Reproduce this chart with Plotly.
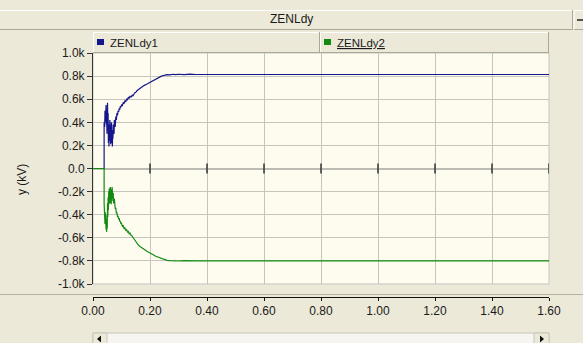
import plotly.graph_objects as go

# ---------------- data ----------------
t1 = [0, 0.039, 0.039, 0.040, 0.041, 0.042, 0.043, 0.044, 0.045, 0.046, 0.047, 0.048, 0.049,
      0.050, 0.051, 0.052, 0.053, 0.054, 0.055, 0.056, 0.057, 0.058, 0.059, 0.060, 0.061,
      0.062, 0.063, 0.064, 0.065, 0.066, 0.067, 0.068, 0.069, 0.070, 0.071, 0.072, 0.073,
      0.074, 0.075, 0.076, 0.077, 0.078, 0.080, 0.082, 0.084, 0.086, 0.088, 0.090, 0.092,
      0.094, 0.096, 0.098, 0.100, 0.103, 0.106, 0.109, 0.112, 0.115, 0.118, 0.121, 0.124,
      0.127, 0.130, 0.134, 0.138, 0.141, 0.146, 0.150, 0.155, 0.160, 0.165, 0.170, 0.175,
      0.180, 0.188, 0.195, 0.200, 0.210, 0.220, 0.230, 0.240, 0.250, 0.260, 0.270, 0.280,
      0.290, 0.300, 0.320, 0.340, 0.360, 1.600]
v1 = [0, 0, 0.40, 0.47, 0.36, 0.50, 0.40, 0.52, 0.44, 0.55, 0.38, 0.50, 0.30,
      0.53, 0.57, 0.35, 0.48, 0.22, 0.38, 0.19, 0.33, 0.24, 0.42, 0.26, 0.36,
      0.21, 0.34, 0.25, 0.40, 0.22, 0.33, 0.19, 0.30, 0.26, 0.38, 0.28, 0.35,
      0.30, 0.42, 0.34, 0.40, 0.36, 0.45, 0.42, 0.48, 0.46, 0.50, 0.49, 0.52,
      0.51, 0.54, 0.53, 0.55, 0.545, 0.57, 0.565, 0.585, 0.58, 0.60, 0.595, 0.615,
      0.61, 0.625, 0.62, 0.635, 0.63, 0.655, 0.66, 0.675, 0.685, 0.695, 0.705, 0.715,
      0.72, 0.73, 0.74, 0.745, 0.76, 0.775, 0.79, 0.80, 0.807, 0.812, 0.810, 0.816,
      0.812, 0.816, 0.812, 0.817, 0.814, 0.814]

t2 = [0, 0.039, 0.039, 0.040, 0.041, 0.042, 0.043, 0.044, 0.045, 0.046, 0.047, 0.048, 0.049,
      0.050, 0.051, 0.052, 0.053, 0.054, 0.055, 0.056, 0.057, 0.058, 0.059, 0.060, 0.061,
      0.062, 0.063, 0.064, 0.065, 0.066, 0.067, 0.068, 0.069, 0.070, 0.071, 0.072, 0.073,
      0.074, 0.075, 0.076, 0.077, 0.078, 0.080, 0.082, 0.084, 0.086, 0.088, 0.090, 0.092,
      0.094, 0.096, 0.098, 0.100, 0.103, 0.106, 0.109, 0.112, 0.115, 0.118, 0.121, 0.124,
      0.127, 0.130, 0.134, 0.138, 0.141, 0.146, 0.150, 0.155, 0.160, 0.165, 0.170, 0.175,
      0.180, 0.188, 0.195, 0.200, 0.210, 0.220, 0.230, 0.240, 0.250, 0.260, 0.270, 0.280,
      0.290, 0.300, 0.320, 0.340, 0.360, 1.600]
v2 = [0, 0, -0.30, -0.42, -0.35, -0.48, -0.38, -0.50, -0.43, -0.53, -0.45, -0.55, -0.40,
      -0.52, -0.30, -0.42, -0.25, -0.36, -0.20, -0.31, -0.17, -0.28, -0.19, -0.30, -0.16,
      -0.27, -0.20, -0.31, -0.18, -0.26, -0.16, -0.25, -0.19, -0.28, -0.21, -0.30, -0.24,
      -0.29, -0.26, -0.33, -0.30, -0.35, -0.34, -0.39, -0.38, -0.42, -0.41, -0.44, -0.43,
      -0.46, -0.455, -0.48, -0.475, -0.50, -0.495, -0.52, -0.515, -0.535, -0.53, -0.55, -0.545,
      -0.565, -0.56, -0.58, -0.585, -0.60, -0.62, -0.635, -0.65, -0.665, -0.675, -0.685, -0.695,
      -0.70, -0.715, -0.725, -0.73, -0.745, -0.76, -0.77, -0.78, -0.79, -0.795, -0.797, -0.800,
      -0.797, -0.801, -0.798, -0.800, -0.799, -0.799]

series_names = ["ZENLdy1", "ZENLdy2"]
series_colors = ["#16168C", "#138A13"]

x_ticks = [0.0, 0.2, 0.4, 0.6, 0.8, 1.0, 1.2, 1.4, 1.6]
x_ticktext = ["0.00", "0.20", "0.40", "0.60", "0.80", "1.00", "1.20", "1.40", "1.60"]
y_ticks = [1.0, 0.8, 0.6, 0.4, 0.2, 0.0, -0.2, -0.4, -0.6, -0.8, -1.0]
y_ticktext = ["1.0k", "0.8k", "0.6k", "0.4k", "0.2k", "0.0", "-0.2k", "-0.4k", "-0.6k", "-0.8k", "-1.0k"]

title_text = "ZENLdy"
y_title = "y (kV)"

# ---------------- layout helpers ----------------
W, H = 583, 343
L, R, T, B = 93, 549, 53, 297
PLOT_BOTTOM = 284


def X(px):
    return (px - L) / (R - L)


def Y(py):
    return (B - py) / (B - T)


BEIGE = "#ECE9D8"
DARKEDGE = "#ACA899"
GRID = "#C6C5BD"
FONT = "Liberation Sans, Arial, sans-serif"

fig = go.Figure()
fig.add_trace(go.Scatter(x=t1, y=v1, mode="lines", name=series_names[0],
                         line=dict(color=series_colors[0], width=1.2), showlegend=False))
fig.add_trace(go.Scatter(x=t2, y=v2, mode="lines", name=series_names[1],
                         line=dict(color=series_colors[1], width=1.2), showlegend=False))
# small tick marks on the zero line
fig.add_trace(go.Scatter(x=x_ticks[1:], y=[0] * (len(x_ticks) - 1), mode="markers",
                         marker=dict(symbol="line-ns", size=7,
                                     line=dict(color="#333333", width=1.5)),
                         showlegend=False, hoverinfo="skip"))

shapes = []
annotations = []


def rect(x0, y0, x1, y1, fill, line_color=None, lw=1, layer="above"):
    shapes.append(dict(type="rect", xref="paper", yref="paper",
                       x0=X(x0), x1=X(x1), y0=Y(y1), y1=Y(y0),
                       fillcolor=fill, layer=layer,
                       line=dict(color=line_color or fill, width=lw if line_color else 0)))


def hline(x0, x1, y, color, lw=1):
    shapes.append(dict(type="line", xref="paper", yref="paper",
                       x0=X(x0), x1=X(x1), y0=Y(y), y1=Y(y),
                       line=dict(color=color, width=lw)))


def vline(x, y0, y1, color, lw=1):
    shapes.append(dict(type="line", xref="paper", yref="paper",
                       x0=X(x), x1=X(x), y0=Y(y0), y1=Y(y1),
                       line=dict(color=color, width=lw)))


def text(x, y, s, size=12, xanchor="center", angle=0, color="#1A1A1A"):
    annotations.append(dict(xref="paper", yref="paper", x=X(x), y=Y(y), text=s,
                            showarrow=False, xanchor=xanchor, yanchor="middle",
                            textangle=angle, font=dict(family=FONT, size=size, color=color)))


# title bar
hline(0, 572, 10.5, "#FFFFFF")
hline(0, 572, 29.5, DARKEDGE)
vline(572.5, 10, 30, DARKEDGE)
text(291, 19.5, title_text, size=12)
# minus button
hline(574, 583, 10.5, "#FFFFFF")
vline(574, 10, 30, "#FFFFFF")
hline(574, 583, 29.5, DARKEDGE)
hline(577, 583, 20, "#222222", lw=1.5)

# legend bar
for i, (x0, x1) in enumerate([(93, 320), (320, 549)]):
    rect(x0, 32, x1, 53, BEIGE)
    hline(x0, x1, 32.5, "#FFFFFF")
    vline(x0 + 0.5, 32, 53, "#FFFFFF")
    vline(x1 - 0.5, 32, 53, DARKEDGE)
    hline(x0, x1, 52.5, DARKEDGE)
    sx = x0 + 4
    rect(sx, 39, sx + 7, 45, series_colors[i])
    label = series_names[i] if i == 0 else "<u>" + series_names[i] + "</u>"
    text(sx + 11, 42.5, label, size=11.5, xanchor="left")

# plot frame
shapes.append(dict(type="rect", xref="paper", yref="paper", x0=0, x1=1,
                   y0=Y(PLOT_BOTTOM), y1=1, line=dict(color=GRID, width=1),
                   fillcolor="rgba(0,0,0,0)", layer="below"))
# divider line above x axis
hline(0, 583, 294.5, "#B5B2A4")

# scroll bar
rect(93, 333, 549, 345, "#F6F5F0", "#C9C6B8")
rect(93, 333, 107, 345, BEIGE, "#C9C6B8")
rect(534, 333, 549, 345, BEIGE, "#C9C6B8")
shapes.append(dict(type="path", xref="paper", yref="paper",
                   path=f"M {X(97)},{Y(339)} L {X(101)},{Y(335.5)} L {X(101)},{Y(342.5)} Z",
                   fillcolor="#111111", line=dict(width=0)))
shapes.append(dict(type="path", xref="paper", yref="paper",
                   path=f"M {X(544)},{Y(339)} L {X(540)},{Y(335.5)} L {X(540)},{Y(342.5)} Z",
                   fillcolor="#111111", line=dict(width=0)))

# y title
text(22, 180, y_title, size=12, angle=-90)

fig.update_layout(
    width=W, height=H,
    margin=dict(l=L, r=W - R, t=T, b=H - B, pad=0),
    paper_bgcolor=BEIGE,
    plot_bgcolor="#FEFCEF",
    font=dict(family=FONT, size=12, color="#1A1A1A"),
    showlegend=False,
    hovermode=False,
    shapes=shapes,
    annotations=annotations,
    xaxis=dict(range=[0, 1.6], tickvals=x_ticks, ticktext=x_ticktext,
               anchor="free", position=0, showgrid=True, gridcolor=GRID, gridwidth=1,
               showline=True, linecolor="#111111", linewidth=1,
               ticks="outside", ticklen=3, tickcolor="#111111",
               zeroline=False, tickfont=dict(size=12)),
    yaxis=dict(range=[-1.0, 1.0], tickvals=y_ticks, ticktext=y_ticktext,
               domain=[Y(PLOT_BOTTOM), 1],
               showgrid=True, gridcolor=GRID, gridwidth=1,
               zeroline=True, zerolinecolor="#BDBCB3", zerolinewidth=1.5,
               showline=True, linecolor="#333333", linewidth=1,
               ticks="outside", ticklen=5, tickcolor="#333333",
               tickfont=dict(size=12)),
)

fig.write_html("out.html", config={"displayModeBar": False},
               post_script="document.body.style.margin='0';document.body.style.background='#ECE9D8';")
